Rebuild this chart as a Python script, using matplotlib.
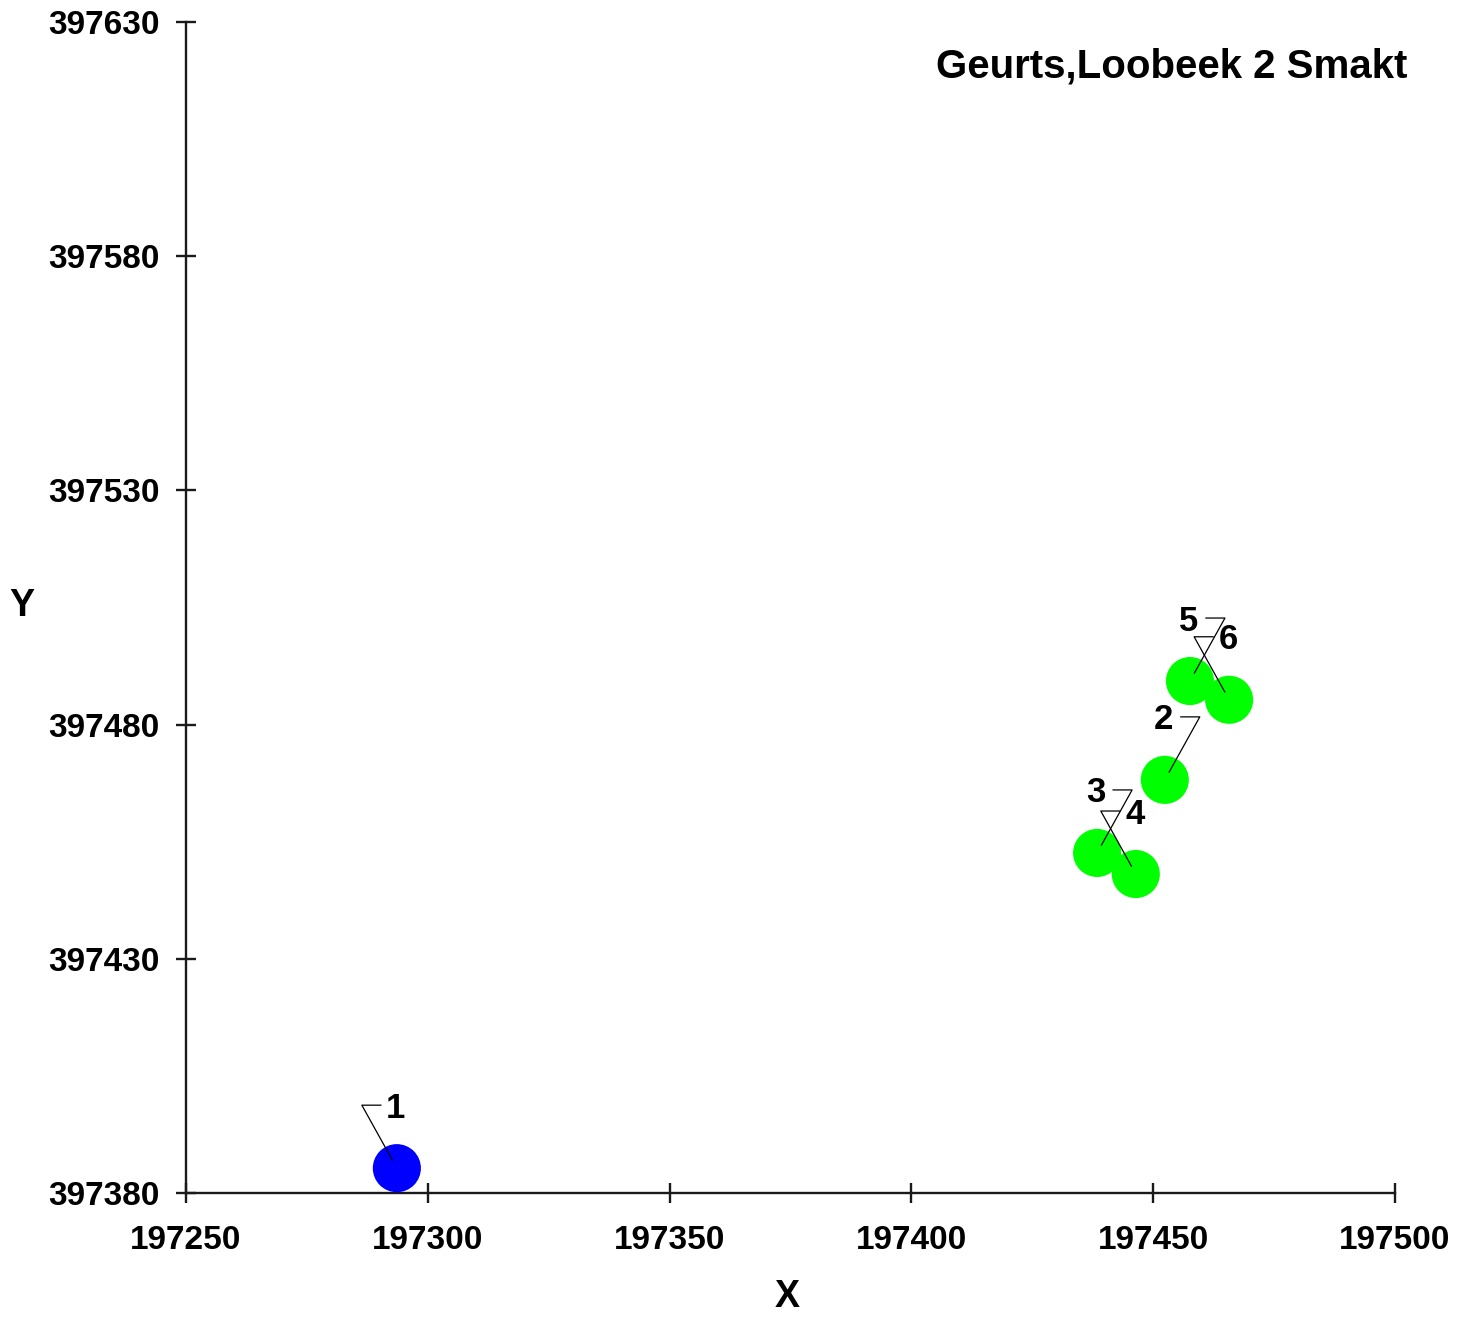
import numpy as np
import matplotlib
matplotlib.use("Agg")
import matplotlib.pyplot as plt
from matplotlib.transforms import IdentityTransform

# Data
labels = ["1", "2", "3", "4", "5", "6"]
x_vals = [197293.6, 197452.4, 197438.4, 197446.4, 197457.6, 197465.7]
y_vals = [397385.3, 397468.2, 397452.6, 397448.1, 397489.3, 397485.3]
colors = ["#0000ff", "#00ff00", "#00ff00", "#00ff00", "#00ff00", "#00ff00"]
# side of the leader elbow: -1 = left of the point, +1 = right
sides = [-1, 1, 1, -1, 1, -1]

x_ticks = [197250, 197300, 197350, 197400, 197450, 197500]
y_ticks = [397380, 397430, 397480, 397530, 397580, 397630]
title = "Geurts,Loobeek 2 Smakt"

W, H = 1469, 1319
fam = ["Liberation Sans", "DejaVu Sans"]

fig = plt.figure(figsize=(W / 100, H / 100), dpi=100)
ax = fig.add_axes([186 / W, 1 - 1193 / H, 1209 / W, 1171 / H])

ax.set_xlim(x_ticks[0], x_ticks[-1])
ax.set_ylim(y_ticks[0], y_ticks[-1])
ax.set_xticks(x_ticks)
ax.set_yticks(y_ticks)
ax.set_xticklabels([str(v) for v in x_ticks], family=fam, fontweight="bold", fontsize=24)
ax.set_yticklabels([str(v) for v in y_ticks], family=fam, fontweight="bold", fontsize=24)

for s in ["top", "right"]:
    ax.spines[s].set_visible(False)
for s in ["left", "bottom"]:
    ax.spines[s].set_linewidth(1.7)
    ax.spines[s].set_color("#1a1a1a")
ax.tick_params(direction="inout", length=14.5, width=1.7, color="#1a1a1a")
ax.tick_params(axis="x", pad=16)
ax.tick_params(axis="y", pad=12)

ax.scatter(x_vals, y_vals, s=1200, c=colors, edgecolors="none", zorder=3, clip_on=False)

# leader lines + point labels (pixel offsets)
for xv, yv, lab, sd in zip(x_vals, y_vals, labels, sides):
    px, py = ax.transData.transform((xv, yv))
    ex, ey = px + sd * 35, py + 63
    hx = px + sd * 16
    d = np.hypot(ex - px, ey - py)
    sx, sy = px + (ex - px) * 9 / d, py + (ey - py) * 9 / d
    ax.plot([sx, ex, hx], [sy, ey, ey], color="black", lw=0.9,
            transform=IdentityTransform(), zorder=4, clip_on=False)
    ax.annotate(lab, xy=(xv, yv), xytext=(-1, 60), textcoords="offset pixels",
                ha="center", va="center", family=fam, fontweight="bold",
                fontsize=25, zorder=5)

fig.text(1407 / W, 1 - 67 / H, title, ha="right", va="center",
         family=fam, fontweight="bold", fontsize=29)
fig.text(787 / W, 1 - 1297 / H, "X", ha="center", va="center",
         family=fam, fontweight="bold", fontsize=27)
fig.text(22 / W, 1 - 606 / H, "Y", ha="center", va="center",
         family=fam, fontweight="bold", fontsize=27)

fig.savefig("out.png", dpi=100)
